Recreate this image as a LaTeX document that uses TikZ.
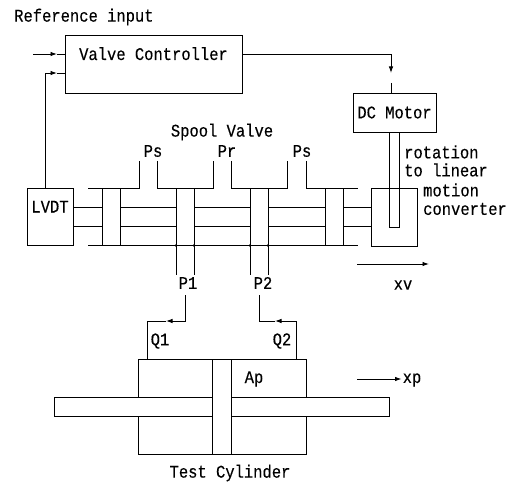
\documentclass[tikz,border=0pt]{standalone}
\usepackage{fontspec}
\setmainfont{Liberation Mono}[FakeStretch=0.87, FakeBold=0.25]
\usetikzlibrary{arrows.meta}
\tikzset{
	box/.style={draw, inner sep=0, line width=0.9pt},
	raised/.style={text height=11pt, text depth=19pt},
	lbl/.style={inner sep=0, font=\fontsize{17.8}{20}\selectfont},
	line/.style={line width=0.9pt},
	>={Latex[length=6.5pt,width=4.5pt]}
}
\begin{document}
\begin{tikzpicture}[x=1pt, y=-1pt]
	
	\useasboundingbox (0,0) rectangle (509,484);
	
	% boxes
	\node[box, lbl, raised, minimum width=177pt, minimum height=58pt] (controller) at (153.5,64) {Valve Controller};
	\node[box, lbl, minimum width=83pt, minimum height=39pt] (motor) at (394.5,112.5) {DC Motor};
	\node[box, lbl, raised, minimum width=46pt, minimum height=57pt] (LVDT) at (50,216.5) {LVDT};
	\node[box, minimum width=46pt, minimum height=58pt] (converter) at (394,217) {};
	
	% labels
	\node[lbl, anchor=west] (refLabel) at (14,17) {Reference input};
	\node[lbl] (spoolLabel) at (222,132) {Spool Valve};
	\node[lbl] (PsLeft) at (153,151) {Ps};
	\node[lbl] (Pr) at (227,151) {Pr};
	\node[lbl] (PsRight) at (302,151) {Ps};
	\node[lbl, anchor=west] (rotLabel) at (404,152) {rotation};
	\node[lbl, anchor=west] (toLabel) at (404,170) {to linear};
	\node[lbl, anchor=west] (motionLabel) at (423,190) {motion};
	\node[lbl, anchor=west] (convLabel) at (423,209) {converter};
	\node[lbl] (P1) at (188,283) {P1};
	\node[lbl] (P2) at (263,283) {P2};
	\node[lbl] (xv) at (403,285) {xv};
	\node[lbl] (Q1) at (160,341) {Q1};
	\node[lbl] (Q2) at (282,341) {Q2};
	\node[lbl] (Ap) at (254,379) {Ap};
	\node[lbl] (xp) at (412,380) {xp};
	\node[lbl] (testLabel) at (230,473) {Test Cylinder};
	
	% signal lines
	\coordinate (refStart) at (33,54);
	\coordinate (refTip) at (57,54);
	\coordinate (fbTip) at (57,73);
	\coordinate (fbCorner) at (45.5,73);
	\coordinate (outCorner) at (391,54);
	\coordinate (outTip) at (391,73);
	\coordinate (outStub) at (391,83);
	\draw[line, ->] (refStart) -- (refTip);
	\draw[line] (refTip) -- (refTip -| controller.west);
	\draw[line, ->] (LVDT.north -| fbCorner) -- (fbCorner) -- (fbTip);
	\draw[line] (fbTip) -- (fbTip -| controller.west);
	\draw[line, ->] (outCorner -| controller.east) -- (outCorner) -- (outTip);
	\draw[line] (outStub) -- (outStub |- motor.north);
	
	% spool valve body
	\draw[line] (88,188) -- (139,188) -- (139,161);
	\draw[line] (157,161) -- (157,188) -- (213,188) -- (213,161);
	\draw[line] (231,161) -- (231,188) -- (287,188) -- (287,161);
	\draw[line] (306,161) -- (306,188) -- (358,188);
	\draw[line] (88,245.5) -- (358,245.5);
	
	% lands
	\draw[line] (102,188) rectangle (120,245.5);
	\draw[line] (176,188) rectangle (194,245.5);
	\draw[line] (250,188) rectangle (268,245.5);
	\draw[line] (325,188) rectangle (343,245.5);
	
	% spool rods
	\foreach \y in {207,226} {
		\draw[line] (LVDT.east |- 0,\y) -- (102,\y);
		\draw[line] (120,\y) -- (176,\y);
		\draw[line] (194,\y) -- (250,\y);
		\draw[line] (268,\y) -- (325,\y);
		\draw[line] (343,\y) -- (converter.west |- 0,\y);
	}
	
	% ports
	\foreach \x in {176,194,250,268} {
		\draw[line] (\x,245.5) -- (\x,275);
		\fill (\x,245.5) circle (1.3);
	}
	
	% motor shaft
	\draw[line] (motor.south -| 389,0) -- (389,227) -- (399,227) -- (motor.south -| 399,0);
	
	% xv and xp
	\coordinate (xvStart) at (357,264);
	\coordinate (xvEnd) at (429,264);
	\draw[line, ->] (xvStart) -- (xvEnd);
	\coordinate (xpStart) at (357,379);
	\draw[line, ->, shorten >=1pt] (xpStart) -- (xpStart -| xp.west);
	
	% cylinder
	\draw[line] (138,397) -- (138,359) -- (306,359) -- (306,397);
	\draw[line] (138,416) -- (138,454) -- (306,454) -- (306,416);
	\draw[line] (212,359) -- (212,454);
	\draw[line] (231,359) -- (231,454);
	\draw[line] (212,397) -- (54,397) -- (54,416) -- (212,416);
	\draw[line] (231,397) -- (389,397) -- (389,416) -- (231,416);
	
	% flow lines
	\coordinate (q1Top) at (185,295);
	\coordinate (q1Tip) at (166,321);
	\coordinate (q1Corner) at (147,321);
	\coordinate (q1End) at (147,359);
	\coordinate (q2Top) at (259,295);
	\coordinate (q2Tip) at (275,321);
	\coordinate (q2Corner) at (296,321);
	\coordinate (q2End) at (296,359);
	\draw[line, ->] (q1Top) |- (q1Tip);
	\draw[line] (q1Tip) -- (q1Corner) -- (q1End);
	\draw[line, ->] (q2End) -- (q2Corner) -- (q2Tip);
	\draw[line] (q2Tip) -| (q2Top);
	
\end{tikzpicture}
\end{document}
